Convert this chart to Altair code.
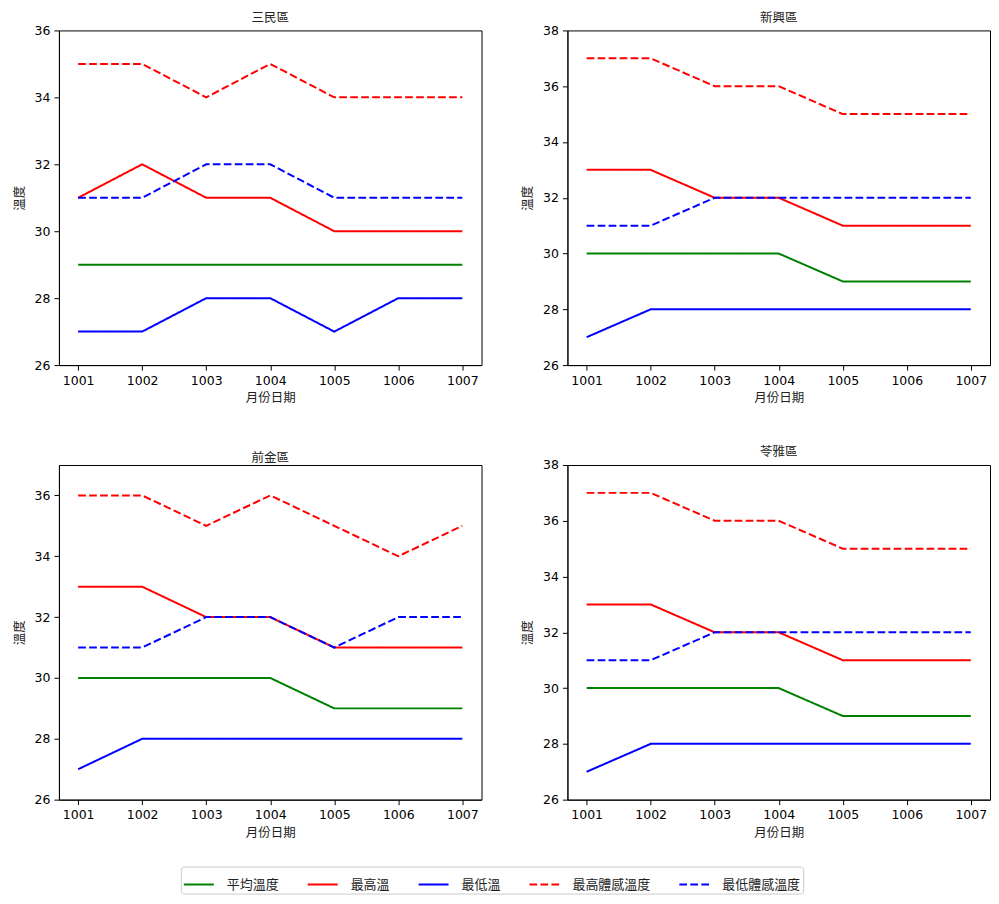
import altair as alt
import pandas as pd

dates = ["1001", "1002", "1003", "1004", "1005", "1006", "1007"]
series_names = ["平均溫度", "最高溫", "最低溫", "最高體感溫度", "最低體感溫度"]
series_colors = ["green", "red", "blue", "red", "blue"]
series_dash = [[1, 0], [1, 0], [1, 0], [7.7, 3.3], [7.7, 3.3]]

districts = ["三民區", "新興區", "前金區", "苓雅區"]

sanmin_avg = [29, 29, 29, 29, 29, 29, 29]
sanmin_max = [31, 32, 31, 31, 30, 30, 30]
sanmin_min = [27, 27, 28, 28, 27, 28, 28]
sanmin_feel_max = [35, 35, 34, 35, 34, 34, 34]
sanmin_feel_min = [31, 31, 32, 32, 31, 31, 31]

xinxing_avg = [30, 30, 30, 30, 29, 29, 29]
xinxing_max = [33, 33, 32, 32, 31, 31, 31]
xinxing_min = [27, 28, 28, 28, 28, 28, 28]
xinxing_feel_max = [37, 37, 36, 36, 35, 35, 35]
xinxing_feel_min = [31, 31, 32, 32, 32, 32, 32]

qianjin_avg = [30, 30, 30, 30, 29, 29, 29]
qianjin_max = [33, 33, 32, 32, 31, 31, 31]
qianjin_min = [27, 28, 28, 28, 28, 28, 28]
qianjin_feel_max = [36, 36, 35, 36, 35, 34, 35]
qianjin_feel_min = [31, 31, 32, 32, 31, 32, 32]

lingya_avg = [30, 30, 30, 30, 29, 29, 29]
lingya_max = [33, 33, 32, 32, 31, 31, 31]
lingya_min = [27, 28, 28, 28, 28, 28, 28]
lingya_feel_max = [37, 37, 36, 36, 35, 35, 35]
lingya_feel_min = [31, 31, 32, 32, 32, 32, 32]

district_data = {
    "三民區": [sanmin_avg, sanmin_max, sanmin_min, sanmin_feel_max, sanmin_feel_min],
    "新興區": [xinxing_avg, xinxing_max, xinxing_min, xinxing_feel_max, xinxing_feel_min],
    "前金區": [qianjin_avg, qianjin_max, qianjin_min, qianjin_feel_max, qianjin_feel_min],
    "苓雅區": [lingya_avg, lingya_max, lingya_min, lingya_feel_max, lingya_feel_min],
}
y_max = {"三民區": 36, "新興區": 38, "前金區": 37, "苓雅區": 38}
y_ticks = {
    "三民區": [26, 28, 30, 32, 34, 36],
    "新興區": [26, 28, 30, 32, 34, 36, 38],
    "前金區": [26, 28, 30, 32, 34, 36],
    "苓雅區": [26, 28, 30, 32, 34, 36, 38],
}

CJK = "Noto Sans CJK TC"
NUM = "DejaVu Sans"

rows = []
for d in districts:
    for name, vals in zip(series_names, district_data[d]):
        for dt, v in zip(dates, vals):
            rows.append({"district": d, "date": dt, "series": name, "temp": v})
df = pd.DataFrame(rows)


def panel(d):
    return (
        alt.Chart(df[df["district"] == d])
        .mark_line(strokeWidth=2)
        .encode(
            x=alt.X(
                "date:O",
                sort=dates,
                scale=alt.Scale(type="point", padding=0.3),
                axis=alt.Axis(title="月份日期", labelAngle=0),
            ),
            y=alt.Y(
                "temp:Q",
                scale=alt.Scale(domain=[26, y_max[d]], nice=False, zero=False),
                axis=alt.Axis(title="溫度", values=y_ticks[d], format="d"),
            ),
            color=alt.Color(
                "series:N",
                sort=series_names,
                scale=alt.Scale(domain=series_names, range=series_colors),
                legend=alt.Legend(title=None),
            ),
            strokeDash=alt.StrokeDash(
                "series:N",
                sort=series_names,
                scale=alt.Scale(domain=series_names, range=series_dash),
                legend=alt.Legend(title=None),
            ),
        )
        .properties(
            width=423,
            height=335,
            title=alt.TitleParams(d, font=CJK, fontSize=12.5, fontWeight="normal", color="#222", offset=0),
        )
    )


top = alt.hconcat(panel("三民區"), panel("新興區"), spacing=38)
bottom = alt.hconcat(panel("前金區"), panel("苓雅區"), spacing=38)

chart = (
    alt.vconcat(top, bottom, spacing=41)
    .properties(padding={"left": 4, "top": 3, "right": 0, "bottom": 0})
    .configure_view(stroke="black", strokeWidth=1)
    .configure_axis(
        domainColor="black",
        tickColor="black",
        tickSize=5,
        labelPadding=4,
        labelFont=NUM,
        labelFontSize=12.5,
        labelColor="black",
        titleFont=CJK,
        titleFontSize=12.5,
        titleFontWeight="normal",
        titleColor="#222",
        grid=False,
    )
    .configure_axisY(titlePadding=8)
    .configure_axisX(titlePadding=5)
    .configure_legend(
        orient="none",
        legendX=122,
        legendY=837,
        direction="horizontal",
        columns=5,
        symbolType="stroke",
        symbolSize=900,
        symbolStrokeWidth=2,
        labelFont=CJK,
        labelFontSize=13,
        labelColor="#222",
        labelOffset=12,
        columnPadding=24,
        padding=2,
        strokeColor="#cccccc",
        cornerRadius=3,
        fillColor="white",
        labelLimit=300,
    )
)

chart.save("out.html", embed_options={"renderer": "svg", "actions": False})
